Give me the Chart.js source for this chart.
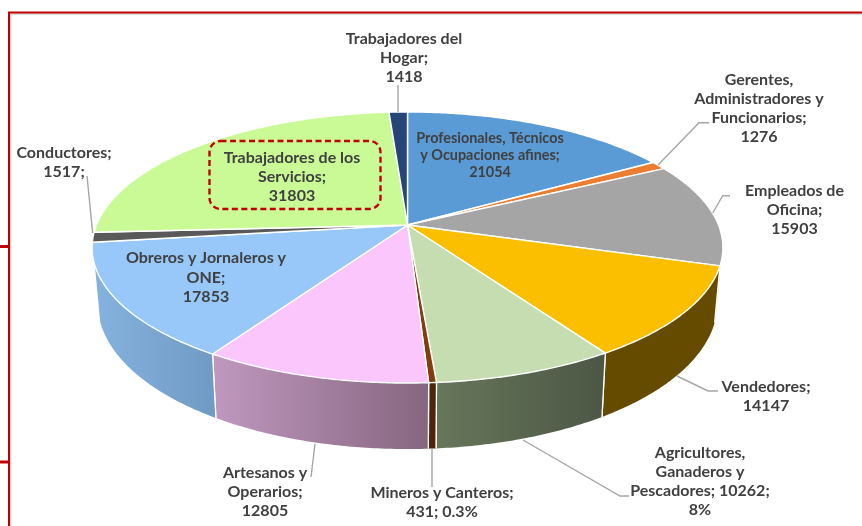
<!DOCTYPE html>
<html><head><meta charset="utf-8">
<style>html,body{margin:0;padding:0;background:#fff}canvas{display:block}</style>
<script src="https://cdn.jsdelivr.net/npm/chart.js@4"></script>
</head><body><canvas id="c" width="862" height="526"></canvas>
<script>
const categories = ["Profesionales, Técnicos y Ocupaciones afines","Gerentes, Administradores y Funcionarios","Empleados de Oficina","Vendedores","Agricultores, Ganaderos y Pescadores","Mineros y Canteros","Artesanos y Operarios","Obreros y Jornaleros y ONE","Conductores","Trabajadores de los Servicios","Trabajadores del Hogar"];
const values = [21054,1276,15903,14147,10262,431,12805,17853,1517,31803,1418];
const topColors = ["#5B9BD5","#ED7D31","#A5A5A5","#FCBF00","#C5DDB0","#843C0C","#FAC6FC","#97C8F9","#595959","#C9FA96","#264478"];
const wallFrom = ["#3f6c95","#a5571f","#737373","#654B00","#67775A","#4f2407","#C098C0","#85B2DE","#3e3e3e","#8cae68","#1a2f54"];
const wallTo = ["#3f6c95","#a5571f","#737373","#654B00","#4C5645","#4f2407","#86667F","#6F9AC4","#3e3e3e","#8cae68","#1a2f54"];
const labelLines = [
 ["Profesionales, Técnicos","y Ocupaciones afines;","21054"],
 ["Gerentes,","Administradores y","Funcionarios;","1276"],
 ["Empleados de","Oficina;","15903"],
 ["Vendedores;","14147"],
 ["Agricultores,","Ganaderos y","Pescadores; 10262;","8%"],
 ["Mineros y Canteros;","431; 0.3%"],
 ["Artesanos y","Operarios;","12805"],
 ["Obreros y Jornaleros y","ONE;","17853"],
 ["Conductores;","1517;"],
 ["Trabajadores de los","Servicios;","31803"],
 ["Trabajadores del","Hogar;","1418"]
];
const labelX = [490,759,794.5,766,700,442,265,206,64,292,404];
const labelY = [138,80,191,387,453,493,473,258,153,158,39];
const labelStep = [17,19,19,19,19,19,19,19.5,19,19,19];
const labelSize = [14.4,16,16,16,16,16,16,16,16,16,16];
const leaders = [
 [[398,85],[398,112]],
 [[709,122.7],[699,122.7],[658,165]],
 [[730,195.7],[722.7,195.7],[712.7,213]],
 [[718,391],[708,391],[677,376]],
 [[629,496],[620,496],[523,440]],
 [[432,449],[432,487]],
 [[315,444],[311,477]],
 [[87,176],[92.7,233]]
];

// projection of the pie disc (perspective view)
const CX=407.5, CY=225, A=131.8, B=311, K=0.166;
const WALL_MIN=106*Math.PI/180, WALL_MAX=253*Math.PI/180;
function rim(t){const u=Math.sin(t),v=-Math.cos(t),d=1-K*v;return {x:CX+B*u/d,y:CY+A*v/d,v};}
function low(p){return {x:CX+(p.x-CX)*0.983,y:p.y+53+13*p.v};}

const pie3d={id:'pie3d',
 beforeDraw(chart){
  const c=chart.ctx;c.save();
  c.fillStyle='#fff';c.fillRect(0,0,862,526);
  const line=(col,w,dy,pts)=>{c.strokeStyle=col;c.lineWidth=w;c.beginPath();pts.forEach((p,i)=>i?c.lineTo(p[0]+dy,p[1]+dy):c.moveTo(p[0]+dy,p[1]+dy));c.stroke();};
  line('#d0d0d0',1.5,1.5,[[9,526],[9,12.5],[862,12.5]]);
  line('#C00000',2,0,[[9,526],[9,12.5],[862,12.5]]);
  line('#C00000',3,0,[[0,246.5],[9,246.5]]);
  line('#C00000',3,0,[[0,462],[9,462]]);
  c.restore();
 },
 beforeDatasetsDraw(chart){
  const c=chart.ctx,arcs=chart.getDatasetMeta(0).data;
  const span=arcs.map(a=>[a.startAngle+Math.PI/2,a.endAngle+Math.PI/2]);
  c.save();c.lineJoin='round';
  // side wall
  arcs.forEach((a,i)=>{
   const s=Math.max(span[i][0],WALL_MIN),e=Math.min(span[i][1],WALL_MAX);
   if(e<=s)return;
   const top=[];const n=Math.max(2,Math.ceil((e-s)/0.01));
   for(let j=0;j<=n;j++)top.push(rim(s+(e-s)*j/n));
   const bot=top.map(low).reverse();
   const all=top.concat(bot),xs=all.map(p=>p.x);
   const g=c.createLinearGradient(Math.min(...xs),0,Math.max(...xs),0);
   g.addColorStop(0,wallFrom[i]);g.addColorStop(1,wallTo[i]);
   c.beginPath();all.forEach((p,k)=>k?c.lineTo(p.x,p.y):c.moveTo(p.x,p.y));c.closePath();
   c.fillStyle=g;c.fill();
   c.strokeStyle='#fff';c.lineWidth=1.3;
   const seam=(q)=>{c.beginPath();c.moveTo(q.x,q.y);const l=low(q);c.lineTo(l.x,l.y);c.stroke();};
   if(span[i][0]>=WALL_MIN)seam(top[0]);
   if(span[i][1]<=WALL_MAX)seam(top[n]);
  });
  // top face, colours resolved by the library
  arcs.forEach((a,i)=>{
   const [s,e]=span[i];const n=Math.max(2,Math.ceil((e-s)/0.01));
   c.beginPath();c.moveTo(CX,CY);
   for(let j=0;j<=n;j++){const p=rim(s+(e-s)*j/n);c.lineTo(p.x,p.y);}
   c.closePath();
   c.fillStyle=a.options.backgroundColor;c.fill();
   c.strokeStyle='#fff';c.lineWidth=1.4;c.stroke();
  });
  c.restore();
  return false;
 },
 afterDraw(chart){
  const c=chart.ctx;c.save();
  c.strokeStyle='#A6A6A6';c.lineWidth=1.4;
  leaders.forEach(l=>{c.beginPath();l.forEach((p,i)=>i?c.lineTo(p[0],p[1]):c.moveTo(p[0],p[1]));c.stroke();});
  c.strokeStyle='#C00000';c.lineWidth=2.4;c.setLineDash([6,3.5]);
  c.beginPath();c.roundRect(209.5,141,171,68,11);c.stroke();c.setLineDash([]);
  c.fillStyle='#404040';c.textAlign='center';c.textBaseline='middle';
  labelLines.forEach((lines,i)=>{
   c.font='bold '+labelSize[i]+'px Lato, sans-serif';
   lines.forEach((t,j)=>c.fillText(t,labelX[i],labelY[i]+j*labelStep[i]));
  });
  c.restore();
 }
};
new Chart(document.getElementById('c'),{
 type:'pie',
 data:{labels:categories,datasets:[{data:values,backgroundColor:topColors,borderColor:'#fff',borderWidth:1}]},
 options:{responsive:false,animation:false,rotation:0,
  plugins:{legend:{display:false},tooltip:{enabled:false},title:{display:false}}},
 plugins:[pie3d]
});
</script></body></html>
